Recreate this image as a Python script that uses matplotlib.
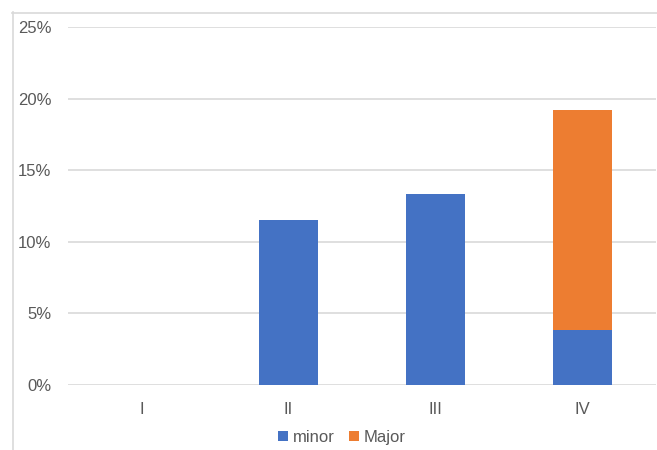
import matplotlib.pyplot as plt
from matplotlib.lines import Line2D
from matplotlib.ticker import PercentFormatter

categories = ['I', 'II', 'III', 'IV']
minor = [0.0, 3 / 26 * 100, 4 / 30 * 100, 1 / 26 * 100]
major = [0.0, 0.0, 0.0, 4 / 26 * 100]

plt.rcParams['font.family'] = ['Liberation Sans', 'DejaVu Sans']

fig = plt.figure(figsize=(6.57, 4.5), dpi=100)
ax = fig.add_axes([68 / 657, 1 - 385 / 450, 588 / 657, 358 / 450])

x = range(len(categories))
ax.bar(x, minor, width=0.4, color='#4472C4', label='minor', zorder=3)
ax.bar(x, major, width=0.4, bottom=minor, color='#ED7D31', label='Major', zorder=3)

ax.set_xlim(-0.5, 3.5)
ax.set_ylim(0, 25)
ax.set_yticks([0, 5, 10, 15, 20, 25])
ax.yaxis.set_major_formatter(PercentFormatter(decimals=0))
ax.set_xticks(list(x))
ax.set_xticklabels(categories)
ax.grid(axis='y', color='#D9D9D9', linewidth=1.2, zorder=0)
for s in ax.spines.values():
    s.set_visible(False)
ax.tick_params(length=0, labelsize=12, colors='#595959', pad=12)
ax.tick_params(axis='y', pad=12)

ax.legend(loc='center', bbox_to_anchor=(274 / 588, -0.146), ncol=2, frameon=False,
          fontsize=12, labelcolor='#595959', handlelength=0.6, handleheight=0.6,
          handletextpad=0.25, columnspacing=0.9)

# chart area border (left and top visible)
fig.add_artist(Line2D([12.5 / 657, 12.5 / 657], [0, 1 - 12 / 450], color='#D9D9D9', lw=1.2))
fig.add_artist(Line2D([12 / 657, 1], [1 - 12.5 / 450, 1 - 12.5 / 450], color='#D9D9D9', lw=1.2))

fig.savefig('out.png', dpi=100)
